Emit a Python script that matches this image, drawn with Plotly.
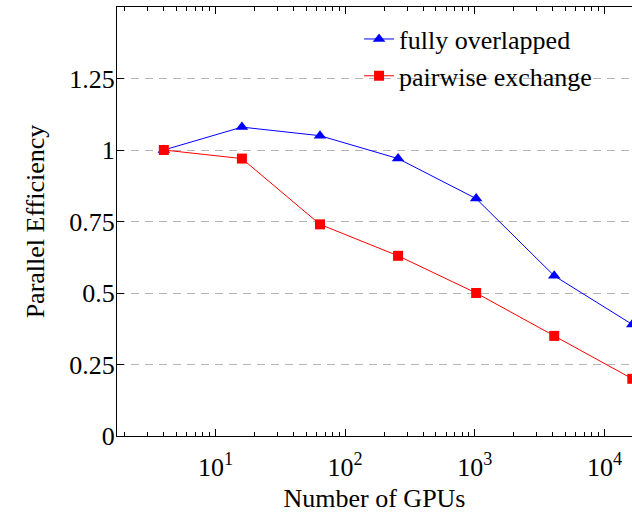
import plotly.graph_objects as go

gpus = [4, 16, 64, 256, 1024, 4096, 16384]
fully_overlapped = [1.0, 1.08, 1.05, 0.97, 0.83, 0.56, 0.39]
pairwise_exchange = [1.0, 0.97, 0.74, 0.63, 0.50, 0.35, 0.20]

x_major = [10, 100, 1000, 10000]
x_major_text = ["10<sup>1</sup>", "10<sup>2</sup>", "10<sup>3</sup>", "10<sup>4</sup>"]
x_minor = [m * 10 ** e for e in range(0, 5) for m in range(2, 10)]
y_ticks = [0, 0.25, 0.5, 0.75, 1, 1.25]
y_text = ["0", "0.25", "0.5", "0.75", "1", "1.25"]

FONT = "Liberation Serif"

fig = go.Figure()
fig.add_trace(go.Scatter(
    x=gpus, y=fully_overlapped, mode="lines+markers", name="fully overlapped",
    line=dict(color="#0000ff", width=1),
    marker=dict(symbol="triangle-up", size=11, color="#0000ff"),
    cliponaxis=True,
))
fig.add_trace(go.Scatter(
    x=gpus, y=pairwise_exchange, mode="lines+markers", name="pairwise exchange",
    line=dict(color="#ff0000", width=1),
    marker=dict(symbol="square", size=10, color="#ff0000"),
    cliponaxis=True,
))

fig.update_layout(
    width=632, height=513,
    margin=dict(l=117, r=0, t=7, b=77, autoexpand=False),
    paper_bgcolor="white", plot_bgcolor="white",
    font=dict(family=FONT, size=26, color="black"),
    showlegend=True,
    legend=dict(x=0.470, y=0.980, xanchor="left", yanchor="top",
                bgcolor="rgba(255,255,255,0)", borderwidth=0,
                font=dict(family=FONT, size=26)),
)
fig.update_xaxes(
    type="log", range=[0.241, 4.212], automargin=False,
    tickmode="array", tickvals=x_major, ticktext=x_major_text,
    ticks="inside", ticklen=7, tickcolor="black", tickwidth=1,
    minor=dict(tickvals=x_minor, ticks="inside", ticklen=4, tickcolor="black", tickwidth=1),
    showline=True, linecolor="black", linewidth=1, mirror="ticks",
    showgrid=False, zeroline=False,
    ticklabelstandoff=8,
    title=dict(text="Number of GPUs", font=dict(size=26), standoff=7),
)
fig.update_yaxes(
    range=[0, 1.5], automargin=False,
    tickmode="array", tickvals=y_ticks, ticktext=y_text,
    ticks="inside", ticklen=7, tickcolor="black", tickwidth=1,
    showline=True, linecolor="black", linewidth=1, mirror=False,
    showgrid=True, gridcolor="#b4b4b4", gridwidth=1, griddash="8px,6px",
    zeroline=False,
    ticklabelstandoff=-4,
    title=dict(text="Parallel Efficiency", font=dict(size=26), standoff=17),
)

fig.write_html(
    "out.html",
    config={"displayModeBar": False},
    post_script="document.body.style.margin='0';document.body.style.overflow='hidden';",
)
